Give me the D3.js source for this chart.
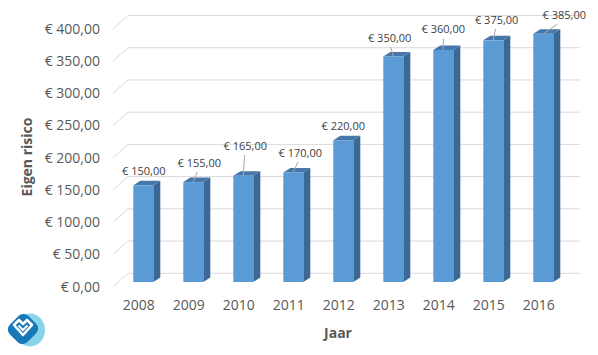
<!DOCTYPE html>
<html><head><meta charset="utf-8">
<script src="https://cdn.jsdelivr.net/npm/d3@7"></script>
<style>html,body{margin:0;padding:0;background:#fff;}svg{display:block;font-family:"Open Sans",sans-serif;}</style>
</head><body>
<svg id="c" width="598" height="355"></svg>
<script>
const years = ["2008","2009","2010","2011","2012","2013","2014","2015","2016"];
const values = [150,155,165,170,220,350,360,375,385];
const yTicks = [0,50,100,150,200,250,300,350,400];
const yTitle = "Eigen risico";
const xTitle = "Jaar";
// label nudges (layout only): offset of label centre from bar top
const labelNudge = [[0.5,-10],[6,-14.6],[2,-25],[7,-15],[0,-10],[-3.6,-13.6],[0,-16],[3.4,-16],[21,-14]];

const svg = d3.select("#c");
const loc = d3.formatLocale({decimal:",",thousands:".",grouping:[3],currency:["€ ",""]});
const fmt = loc.format("$,.2f");

const x = d3.scaleBand().domain(years).range([118.3,568.3]).paddingInner(0.6).paddingOuter(0.3);
const y = d3.scaleLinear().domain([0,400]).range([282,282-257.8]);
const bw = x.bandwidth();
const depthX = 7, depthY = 4.5;
const wallBackDY = -8.7, wallFrontDY = 4.7;
const wallFrontX = 113, wallBackX = 128, wallRight = 580;

// gridlines
const g = svg.append("g");
yTicks.forEach(v=>{
  g.append("path").attr("d",`M${wallFrontX},${y(v)+wallFrontDY}L${wallBackX},${y(v)+wallBackDY}L${wallRight},${y(v)+wallBackDY}`)
   .attr("fill","none").attr("stroke","#d9d9d9").attr("stroke-width",1);
});
// y tick labels
svg.append("g").selectAll("text").data(yTicks).join("text")
  .attr("x",100).attr("y",d=>y(d)+wallFrontDY).attr("dy","0.35em")
  .attr("text-anchor","end").attr("font-size",14).attr("fill","#595959").text(d=>fmt(d));

// bars
const bars = svg.append("g");
years.forEach((yr,i)=>{
  const v = values[i], x0 = x(yr), yt = y(v), yb = y(0);
  bars.append("path").attr("d",`M${x0+bw},${yt}L${x0+bw+depthX},${yt-depthY}L${x0+bw+depthX},${yb-depthY}L${x0+bw},${yb}Z`).attr("fill","#3b6894");
  bars.append("path").attr("d",`M${x0},${yt}L${x0+depthX},${yt-depthY}L${x0+bw+depthX},${yt-depthY}L${x0+bw},${yt}Z`).attr("fill","#4677a8");
  bars.append("rect").attr("x",x0).attr("y",yt).attr("width",bw).attr("height",yb-yt).attr("fill","#5b9bd5");
});

// data labels
const lab = svg.append("g");
years.forEach((yr,i)=>{
  const v = values[i];
  const bx = x(yr)+bw/2, by = y(v)-depthY;
  const lx = bx+labelNudge[i][0], ly = by+labelNudge[i][1];
  if (labelNudge[i][1] < -12) {
    lab.append("line").attr("x1",lx+0.35*(bx-lx)).attr("y1",ly+9).attr("x2",bx).attr("y2",y(v))
      .attr("stroke","#a6a6a6").attr("stroke-width",1);
  }
  lab.append("text").attr("x",lx).attr("y",ly).attr("dy","0.35em").attr("text-anchor","middle")
    .attr("font-size",11).attr("fill","#404040").text(fmt(v));
});

// x tick labels
svg.append("g").selectAll("text").data(years).join("text")
  .attr("x",d=>x(d)+bw/2-4.5).attr("y",305).attr("dy","0.35em").attr("text-anchor","middle")
  .attr("font-size",14).attr("fill","#595959").text(d=>d);

// axis titles
svg.append("text").attr("transform","translate(27,157) rotate(-90)").attr("dy","0.35em")
  .attr("text-anchor","middle").attr("font-size",14).attr("font-weight","bold").attr("fill","#595959").text(yTitle);
svg.append("text").attr("x",338).attr("y",333).attr("dy","0.35em")
  .attr("text-anchor","middle").attr("font-size",14).attr("font-weight","bold").attr("fill","#595959").text(xTitle);

// logo
const lg = svg.append("g");
lg.append("path").attr("d","M26,314 C36,311 46,320 45,331 C44,342 36,348 27,346 C18,344 14,336 16,326 C18,318 21,315 26,314Z").attr("fill","#6cc9e3").attr("opacity",0.8);
lg.append("rect").attr("x",-13).attr("y",-13).attr("width",26).attr("height",26).attr("rx",7)
  .attr("transform","translate(23,329) rotate(45) scale(0.95,1)").attr("fill","#1677b9");
lg.append("path").attr("d","M14,325 L19,320 L23,324 L27,320 L32,325 L23,335 Z").attr("fill","none").attr("stroke","#fff").attr("stroke-width",2.6).attr("stroke-linejoin","round");
lg.append("path").attr("d","M18.5,325.5 L23,330 L27.5,325.5").attr("fill","none").attr("stroke","#fff").attr("stroke-width",2);
</script>
</body></html>
